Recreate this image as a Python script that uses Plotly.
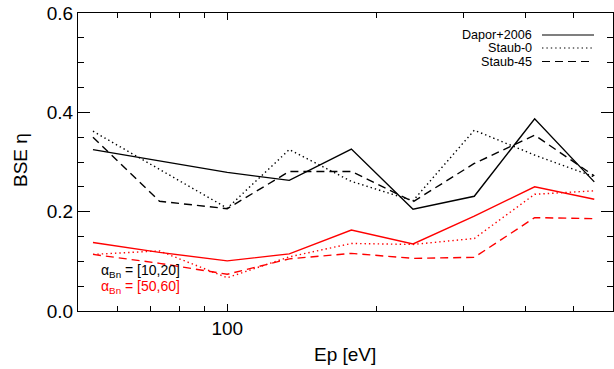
import plotly.graph_objects as go
import math

# ---- data ----
energy = [53.6, 73.0, 100, 133.4, 178, 237, 315, 417, 550]

dapor_10_20 = [0.325, 0.302, 0.279, 0.263, 0.326, 0.205, 0.231, 0.387, 0.260]
staub0_10_20 = [0.362, 0.285, 0.207, 0.325, 0.261, 0.222, 0.364, 0.314, 0.270]
staub45_10_20 = [0.350, 0.221, 0.206, 0.281, 0.281, 0.220, 0.297, 0.354, 0.272]

dapor_50_60 = [0.138, 0.118, 0.101, 0.115, 0.163, 0.135, 0.191, 0.250, 0.225]
staub0_50_60 = [0.114, 0.121, 0.067, 0.109, 0.136, 0.134, 0.146, 0.235, 0.242]
staub45_50_60 = [0.114, 0.096, 0.074, 0.105, 0.116, 0.106, 0.108, 0.188, 0.186]

legend_names = ["Dapor+2006", "Staub-0", "Staub-45"]
x_major_ticks = [100]
x_minor_ticks = [60, 70, 80, 90, 200, 300, 400, 500]
y_ticks = [0.0, 0.2, 0.4, 0.6]

# ---- styles ----
FONT = "Liberation Sans, Arial, sans-serif"
DASH = "8px,5px"
DOT = "1.4px,3px"
styles = ["solid", DOT, DASH]

fig = go.Figure()
groups = [
    ("black", [dapor_10_20, staub0_10_20, staub45_10_20]),
    ("#ff0000", [dapor_50_60, staub0_50_60, staub45_50_60]),
]
for color, series in groups:
    for name, ys, dash in zip(legend_names, series, styles):
        fig.add_trace(go.Scatter(
            x=energy, y=ys, mode="lines", name=name, showlegend=False,
            line=dict(color=color, width=1.4, dash=dash),
        ))

L, R, T, B = 78, 1, 13, 58
W, H = 614, 369
pw, ph = W - L - R, H - T - B

def px2paper(px, py):
    return (px - L) / pw, (H - B - py) / ph

# manual legend (text left, sample right)
leg_y = [35, 48, 61.5]
for name, dash, py in zip(legend_names, styles, leg_y):
    tx, ty = px2paper(534, py)
    fig.add_annotation(x=tx, y=ty, xref="paper", yref="paper", text=name,
                       showarrow=False, xanchor="right", yanchor="middle",
                       font=dict(size=12.6, color="black", family=FONT))
    x0, y0 = px2paper(542, py)
    x1, _ = px2paper(594, py)
    fig.add_shape(type="line", xref="paper", yref="paper",
                  x0=x0, x1=x1, y0=y0, y1=y0,
                  line=dict(color="black", width=1.2, dash=dash))

# alpha annotations
for txt, col, py in [("α<sub>Bn</sub> = [10,20]", "black", 271),
                     ("α<sub>Bn</sub> = [50,60]", "#ff0000", 287)]:
    ax, ay = px2paper(99, py)
    fig.add_annotation(x=ax, y=ay, xref="paper", yref="paper", text=txt,
                       showarrow=False, xanchor="left", yanchor="middle",
                       font=dict(size=14, color=col, family=FONT))

# axis titles
bx, by = px2paper(20, 160)
fig.add_annotation(x=bx, y=by, xref="paper", yref="paper", text="BSE η",
                   showarrow=False, textangle=-90, xanchor="center", yanchor="middle",
                   font=dict(size=19, color="black", family=FONT))
ex, ey = px2paper(345, 354)
fig.add_annotation(x=ex, y=ey, xref="paper", yref="paper", text="Ep [eV]",
                   showarrow=False, xanchor="center", yanchor="middle",
                   font=dict(size=19, color="black", family=FONT))

fig.update_layout(
    width=W, height=H,
    margin=dict(l=L, r=R, t=T, b=B, pad=0, autoexpand=False),
    plot_bgcolor="white", paper_bgcolor="white",
    font=dict(family=FONT, color="black", size=19),
    showlegend=False,
)
fig.update_xaxes(
    type="log", range=[math.log10(50), math.log10(600)],
    automargin=False,
    showgrid=False, zeroline=False,
    showline=True, linecolor="black", linewidth=1, mirror="ticks",
    ticks="inside", ticklen=7, tickwidth=1, tickcolor="black",
    tickmode="array", tickvals=x_major_ticks, ticktext=[str(v) for v in x_major_ticks],
    tickfont=dict(size=19),
    minor=dict(tickmode="array", tickvals=x_minor_ticks, ticks="inside",
               ticklen=5, tickwidth=1, tickcolor="black", showgrid=False),
)
fig.update_yaxes(
    range=[0, 0.6],
    automargin=False,
    showgrid=False, zeroline=False,
    showline=True, linecolor="black", linewidth=1, mirror="ticks",
    ticks="inside", ticklen=12, tickwidth=1, tickcolor="black",
    tickmode="array", tickvals=y_ticks, ticktext=[f"{v:.1f}" for v in y_ticks],
    tickfont=dict(size=19),
    minor=dict(dtick=0.05, ticks="inside", ticklen=6, tickwidth=1,
               tickcolor="black", showgrid=False),
)

fig.write_html(
    "out.html",
    config={"displayModeBar": False},
    post_script="document.documentElement.style.margin='0';"
                "document.body.style.margin='0';"
                "document.body.style.overflow='hidden';",
)
